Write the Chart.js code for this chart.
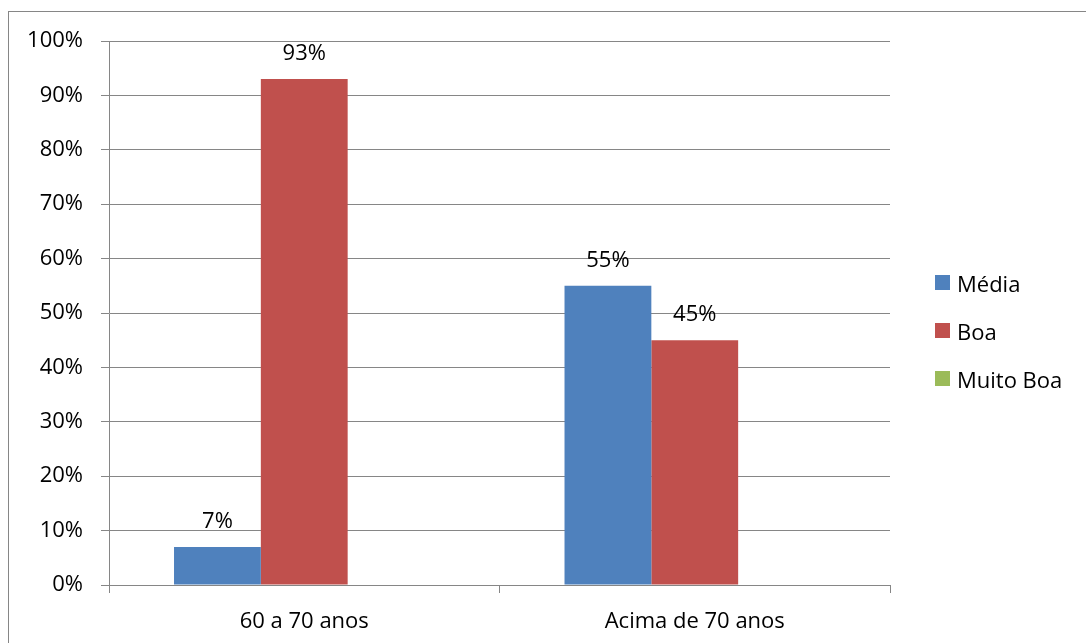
<!DOCTYPE html>
<html>
<head>
<meta charset="utf-8">
<script src="https://cdn.jsdelivr.net/npm/chart.js@4"></script>
<style>
  html, body { margin: 0; padding: 0; background: #fff; }
  #wrap { position: relative; width: 1086px; height: 643px; overflow: hidden; }
  #frame { position: absolute; left: 8px; top: 11px; width: 1200px; height: 800px; border: 1px solid #868686; }
  #grafico { position: absolute; left: 0; top: 0; }
  #legenda { position: absolute; left: 935px; top: 269px; font-family: "Open Sans", sans-serif; font-size: 22px; color: #000; }
  #legenda div { position: relative; height: 48px; line-height: 28px; padding-left: 22px; }
  #legenda span { position: absolute; left: 0; top: 6px; width: 15px; height: 15px; }
</style>
</head>
<body>
<div id="wrap">
  <div id="frame"></div>
  <canvas id="grafico" width="1086" height="643"></canvas>
  <div id="legenda"></div>
</div>
<script>
const faixas = ['60 a 70 anos', 'Acima de 70 anos'];
const media = [7, 55];
const boa = [93, 45];
const muitoBoa = [null, null];
const nomesSeries = ['Média', 'Boa', 'Muito Boa'];
const cores = ['#4F81BD', '#C0504D', '#9BBB59'];

const fonte = { family: '"Open Sans", sans-serif', size: 22 };
const cinza = '#868686';

// rotulos de dados acima das barras
const rotulos = {
    id: 'rotulos',
    afterDatasetsDraw(chart) {
        const ctx = chart.ctx;
        ctx.save();
        ctx.font = '22px "Open Sans", sans-serif';
        ctx.fillStyle = '#000';
        ctx.textAlign = 'center';
        ctx.textBaseline = 'alphabetic';
        chart.data.datasets.forEach((ds, i) => {
            const meta = chart.getDatasetMeta(i);
            meta.data.forEach((bar, j) => {
                const v = ds.data[j];
                if (v === null || v === undefined) return;
                ctx.fillText(v + '%', bar.x, bar.y - 19);
            });
        });
        ctx.restore();
    }
};

const dataFaixas = {
    labels: faixas,
    datasets: [
        { label: nomesSeries[0], data: media, backgroundColor: cores[0] },
        { label: nomesSeries[1], data: boa, backgroundColor: cores[1] },
        { label: nomesSeries[2], data: muitoBoa, backgroundColor: cores[2] }
    ]
};

const configFaixas = {
    type: 'bar',
    data: dataFaixas,
    options: {
        responsive: false,
        animation: false,
        barPercentage: 1,
        categoryPercentage: 0.667,
        layout: { padding: { left: 0, top: 41, right: 196, bottom: 0 } },
        plugins: {
            legend: { display: false },
            tooltip: { enabled: false }
        },
        scales: {
            x: {
                afterFit(scale) { scale.height = 58; },
                grid: { offset: true, drawOnChartArea: false, drawTicks: true, tickLength: 8, color: cinza },
                border: { color: cinza },
                ticks: { font: fonte, color: '#000', padding: 16 }
            },
            y: {
                min: 0,
                max: 100,
                afterFit(scale) { scale.width = 109; },
                grid: { color: cinza, tickLength: 8 },
                border: { color: cinza },
                ticks: {
                    stepSize: 10,
                    font: fonte,
                    color: '#000',
                    padding: 18,
                    callback: v => v + '%'
                }
            }
        }
    },
    plugins: [rotulos]
};

new Chart(document.getElementById('grafico'), configFaixas);

const legenda = document.getElementById('legenda');
nomesSeries.forEach((nome, i) => {
    const linha = document.createElement('div');
    const q = document.createElement('span');
    q.style.background = cores[i];
    linha.appendChild(q);
    linha.appendChild(document.createTextNode(nome));
    legenda.appendChild(linha);
});
</script>
</body>
</html>
